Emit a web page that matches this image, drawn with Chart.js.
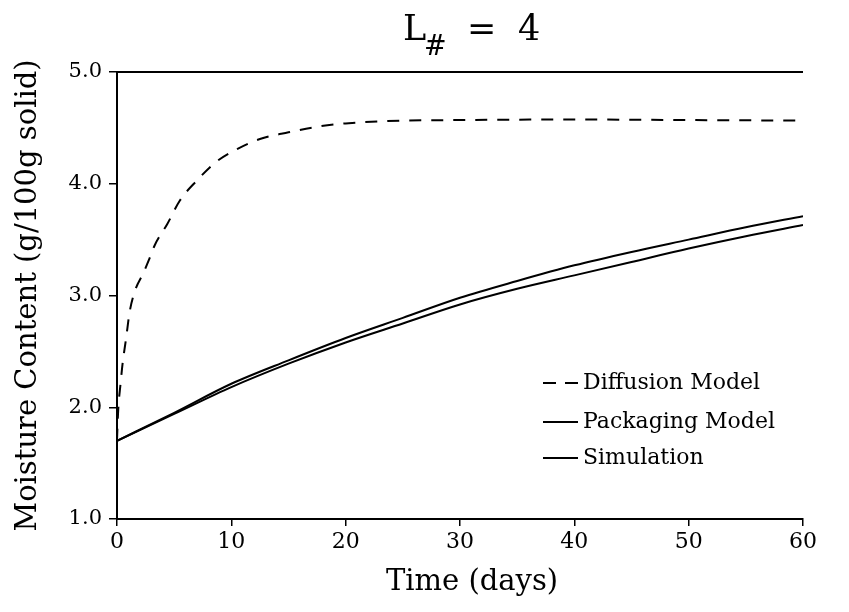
<!DOCTYPE html>
<html>
<head>
<meta charset="utf-8">
<script src="https://cdn.jsdelivr.net/npm/chart.js@4"></script>
<style>
  body { margin: 0; background: #fff; }
  #wrap { width: 849px; height: 612px; }
</style>
</head>
<body>
<div id="wrap"><canvas id="moisture-chart"></canvas></div>
<script>
// values (days, g water / 100 g solid)
const diffusionDays = [0, 0.05, 0.12, 0.3, 0.5, 0.8, 1.1, 1.6, 2.3, 2.8, 3.3, 4.4, 5.5, 7, 8.6, 10.5, 12.5, 15, 17.5, 20, 25, 30, 40, 50, 60];
const diffusionMoisture = [1.70, 1.85, 2.0, 2.2, 2.4, 2.62, 2.85, 3.05, 3.2, 3.32, 3.45, 3.64, 3.85, 4.03, 4.19, 4.31, 4.40, 4.46, 4.51, 4.54, 4.565, 4.57, 4.575, 4.57, 4.565];

const modelDays = [0, 5, 10, 15, 20, 25, 30, 35, 40, 45, 50, 55, 60];
const packagingMoisture = [1.70, 1.95, 2.21, 2.42, 2.62, 2.80, 2.98, 3.13, 3.27, 3.39, 3.50, 3.61, 3.71];
const simulationMoisture = [1.70, 1.94, 2.18, 2.39, 2.58, 2.75, 2.92, 3.06, 3.18, 3.30, 3.42, 3.53, 3.63];

const seriesNames = ['Diffusion Model', 'Packaging Model', 'Simulation'];
const xTicks = [0, 10, 20, 30, 40, 50, 60];
const yTicks = [1.0, 2.0, 3.0, 4.0, 5.0];

const serif = "'DejaVu Serif', serif";
const toPoints = (xs, ys) => xs.map((x, i) => ({x: x, y: ys[i]}));

// title "L# = 4" with the # as a subscript, and the x axis title
const titlePlugin = {
  id: 'subTitle',
  afterDraw(chart) {
    const ctx = chart.ctx;
    ctx.save();
    ctx.fillStyle = '#000';
    ctx.textBaseline = 'alphabetic';
    const base = 40;
    ctx.font = '35px ' + serif;
    ctx.fillText('L', 403, base);
    ctx.font = '27px ' + serif;
    ctx.fillText('#', 424, base + 15);
    ctx.font = '35px ' + serif;
    ctx.fillText('=', 467, base);
    ctx.fillText('4', 518, base);

    ctx.font = '29px ' + serif;
    ctx.textAlign = 'center';
    ctx.textBaseline = 'middle';
    ctx.fillText('Time (days)', 472, 582);
    ctx.restore();
  }
};

// top frame line and the legend inside the plot
const framePlugin = {
  id: 'frame',
  afterDraw(chart) {
    const {ctx, chartArea} = chart;
    ctx.save();
    ctx.strokeStyle = '#000';
    ctx.lineWidth = 2;
    ctx.beginPath();
    ctx.moveTo(chartArea.left, chartArea.top);
    ctx.lineTo(chartArea.right, chartArea.top);
    ctx.stroke();

    const rows = [383, 422, 458];
    ctx.font = '22px ' + serif;
    ctx.textBaseline = 'middle';
    ctx.fillStyle = '#000';
    chart.data.datasets.forEach((ds, i) => {
      ctx.setLineDash(ds.borderDash ? [13, 9] : []);
      ctx.lineWidth = 1.8;
      ctx.beginPath();
      ctx.moveTo(543, rows[i]);
      ctx.lineTo(578, rows[i]);
      ctx.stroke();
      ctx.setLineDash([]);
      ctx.fillText(ds.label, 583, rows[i]);
    });
    ctx.restore();
  }
};

new Chart(document.getElementById('moisture-chart'), {
  type: 'line',
  data: {
    datasets: [
      {
        label: seriesNames[0],
        data: toPoints(diffusionDays, diffusionMoisture),
        borderColor: '#000',
        borderWidth: 2,
        borderDash: [12, 10],
        pointRadius: 0,
        cubicInterpolationMode: 'monotone'
      },
      {
        label: seriesNames[1],
        data: toPoints(modelDays, packagingMoisture),
        borderColor: '#000',
        borderWidth: 2,
        pointRadius: 0,
        cubicInterpolationMode: 'monotone'
      },
      {
        label: seriesNames[2],
        data: toPoints(modelDays, simulationMoisture),
        borderColor: '#000',
        borderWidth: 2,
        pointRadius: 0,
        cubicInterpolationMode: 'monotone'
      }
    ]
  },
  options: {
    responsive: true,
    maintainAspectRatio: false,
    animation: false,
    layout: {
      padding: {top: 72, right: 46, left: 0, bottom: 0}
    },
    plugins: {
      legend: {display: false},
      tooltip: {enabled: false}
    },
    scales: {
      x: {
        type: 'linear',
        min: 0,
        max: 60,
        afterBuildTicks: (scale) => { scale.ticks = xTicks.map(v => ({value: v})); },
        afterFit: (scale) => { scale.height = 93; },
        ticks: {color: '#000', font: {family: serif, size: 22}, padding: 3, maxRotation: 0},
        grid: {drawOnChartArea: false, drawTicks: true, tickLength: 7, color: '#000', lineWidth: 1.5},
        border: {color: '#000', width: 2}
      },
      y: {
        min: 1,
        max: 5,
        afterBuildTicks: (scale) => { scale.ticks = yTicks.map(v => ({value: v})); },
        afterFit: (scale) => { scale.width = 117; },
        ticks: {
          color: '#000',
          font: {family: serif, size: 21},
          padding: 7,
          callback: (v) => Number(v).toFixed(1)
        },
        grid: {drawOnChartArea: false, drawTicks: true, tickLength: 8, color: '#000', lineWidth: 1.5},
        border: {color: '#000', width: 2},
        title: {
          display: true,
          text: 'Moisture Content (g/100g solid)',
          color: '#000',
          font: {family: serif, size: 29},
          padding: {top: 11, bottom: 0}
        }
      }
    }
  },
  plugins: [titlePlugin, framePlugin]
});
</script>
</body>
</html>
